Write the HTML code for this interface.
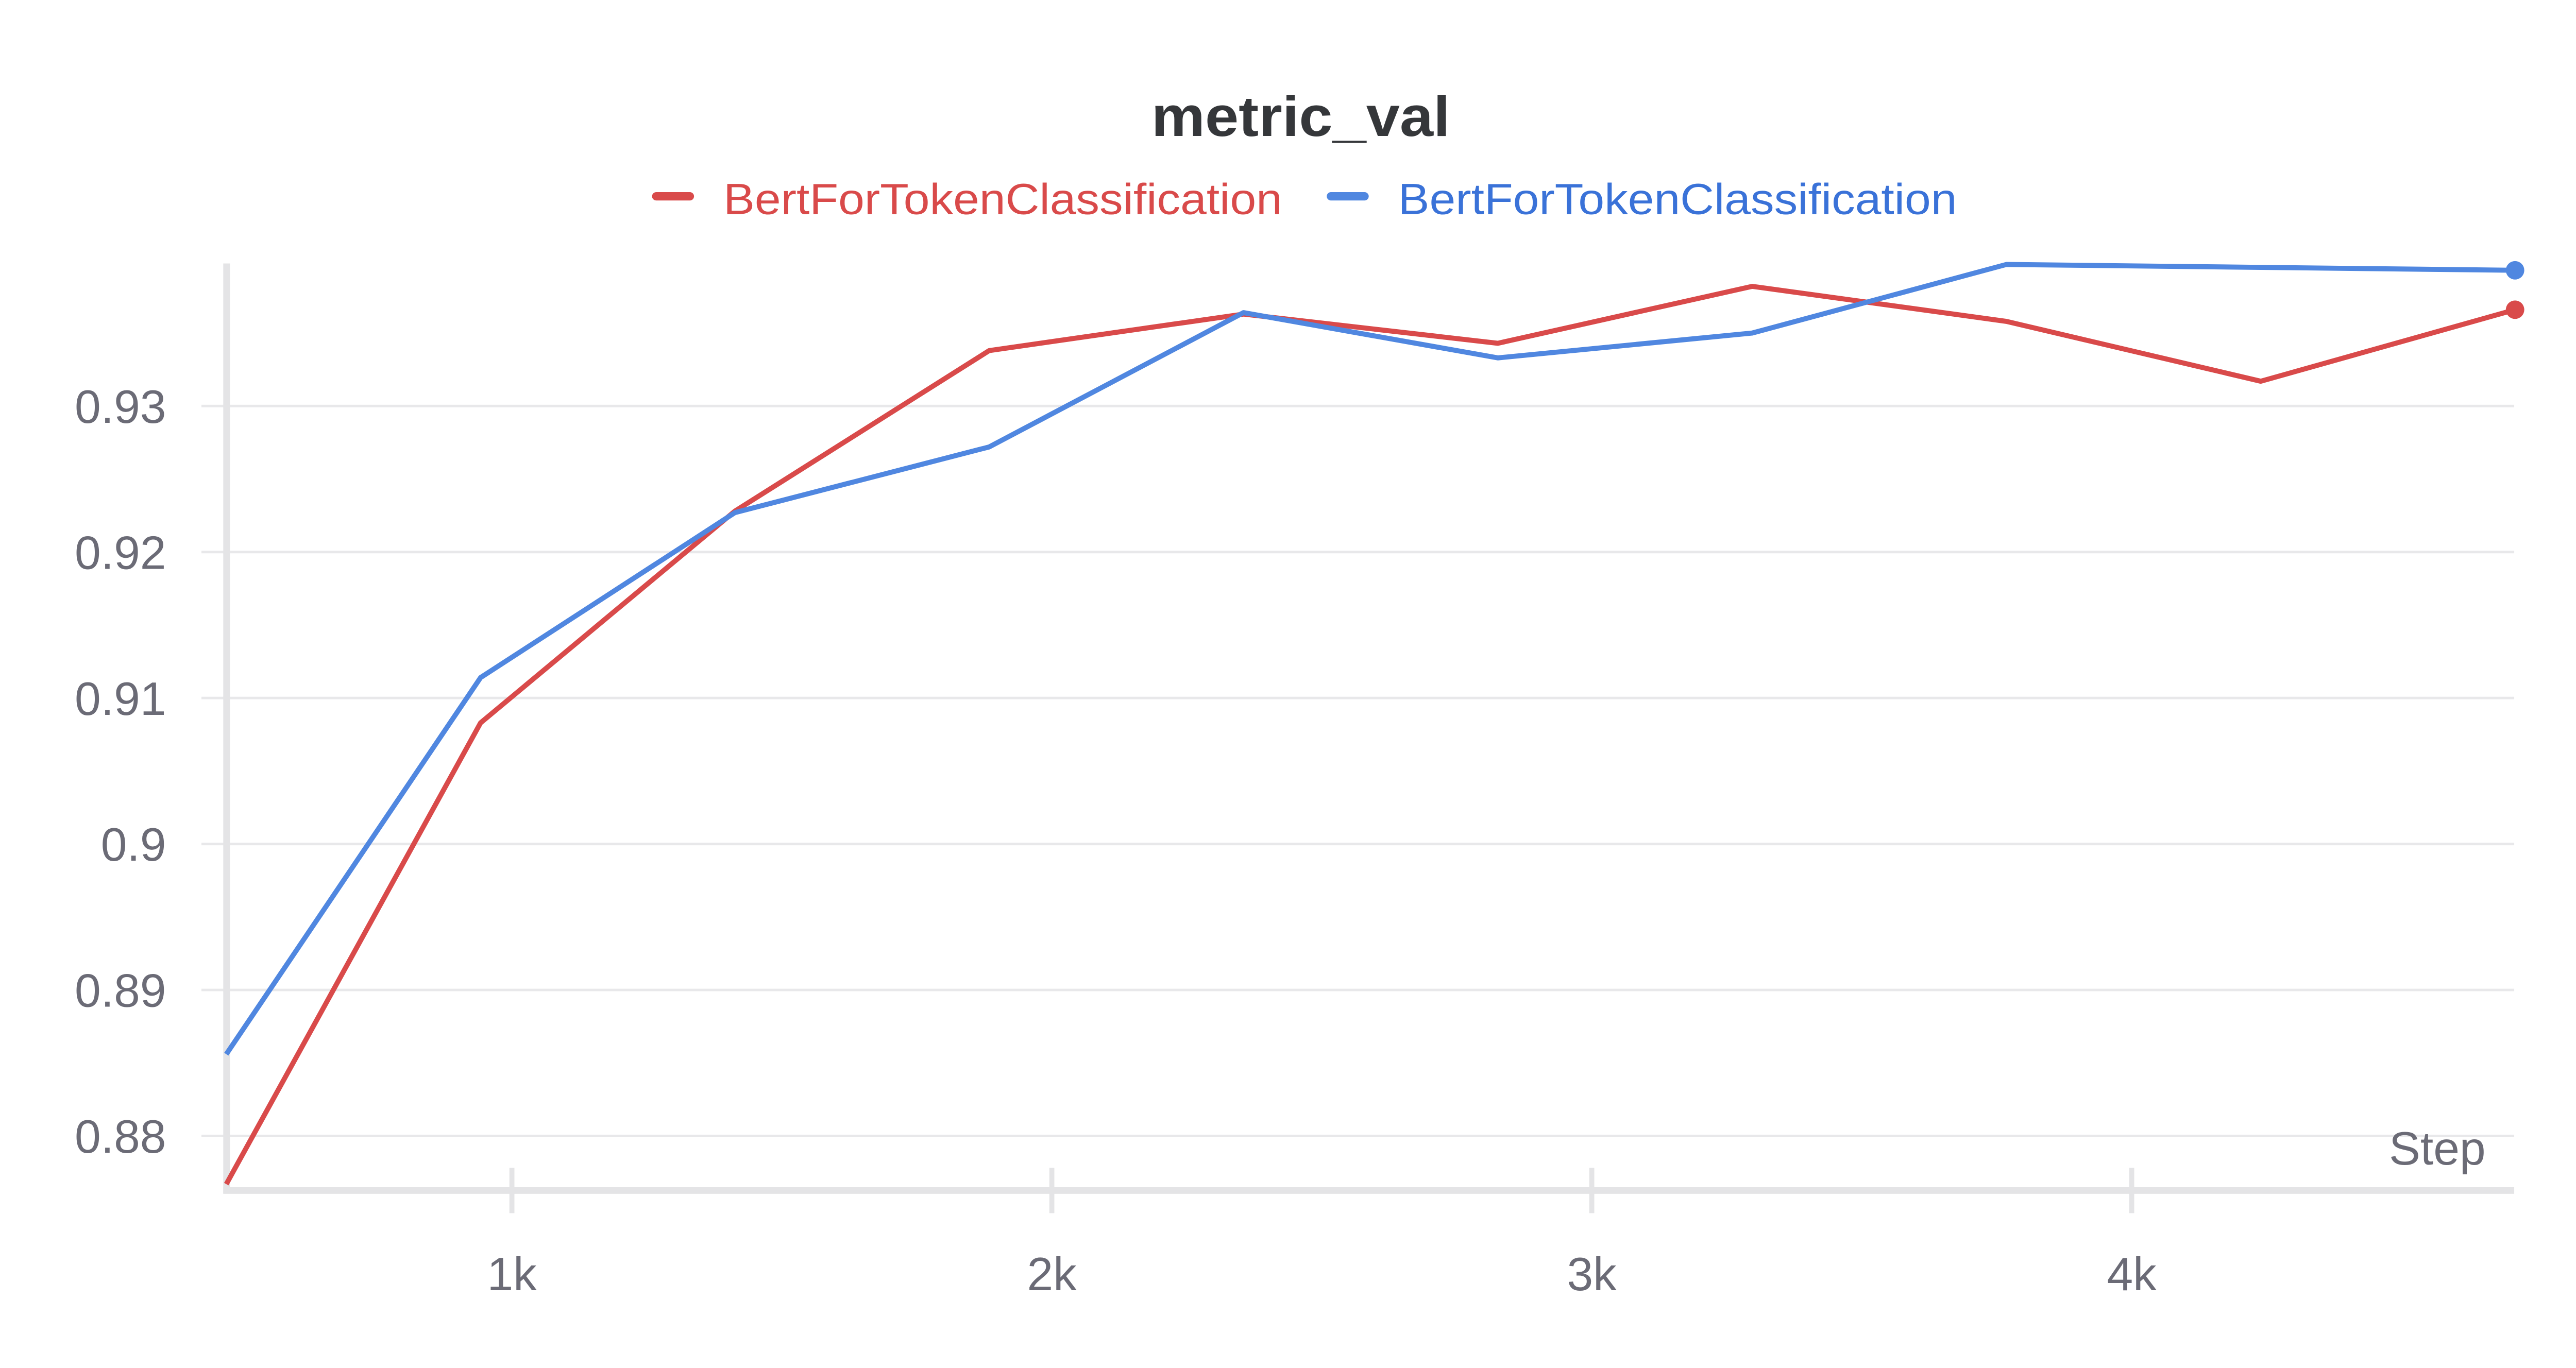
<!DOCTYPE html>
<html><head><meta charset="utf-8"><style>
html,body{margin:0;padding:0;background:#fff;}
svg{display:block;font-family:"Liberation Sans",sans-serif;}
</style></head><body>
<svg id="chart" width="5056" height="2656" viewBox="0 0 1552 815.3" xmlns="http://www.w3.org/2000/svg">
<rect width="1552" height="815.3" fill="#fff"/>
<text x="775" y="81" text-anchor="middle" font-size="34" font-weight="bold" fill="#35373a" textLength="178" lengthAdjust="spacingAndGlyphs">metric_val</text>
<g>
<g>
<line x1="391" y1="117" x2="411" y2="117" stroke="#d94a4a" stroke-width="5" stroke-linecap="round"/>
<text x="431" y="127.5" font-size="26" fill="#d94a4a" textLength="333" lengthAdjust="spacingAndGlyphs">BertForTokenClassification</text></g>
<g>
<line x1="793" y1="117" x2="813" y2="117" stroke="#5087e0" stroke-width="5" stroke-linecap="round"/>
<text x="833" y="127.5" font-size="26" fill="#3a72d8" textLength="333" lengthAdjust="spacingAndGlyphs">BertForTokenClassification</text></g>
</g>
<g id="grid"></g>
<g id="yticks"></g>
<g id="xticks"></g>
<line x1="135" y1="157" x2="135" y2="711" stroke="#e4e4e6" stroke-width="4"/>
<line x1="133" y1="709.5" x2="1498" y2="709.5" stroke="#e4e4e6" stroke-width="4"/>
<text x="1481" y="694" text-anchor="end" font-size="28" fill="#6b6b76">Step</text>
<g id="series"></g>
</svg>
<script>
const steps = [471, 942, 1413, 1884, 2355, 2826, 3297, 3768, 4239, 4710];
const redValues = [0.8767, 0.9083, 0.9228, 0.9338, 0.9363, 0.9343, 0.9382, 0.9358, 0.9317, 0.9366];
const blueValues = [0.8856, 0.9114, 0.9227, 0.9272, 0.9364, 0.9333, 0.9350, 0.9397, 0.9395, 0.9393];
const yTicks = [0.88, 0.89, 0.90, 0.91, 0.92, 0.93];
const yTickLabels = ["0.88", "0.89", "0.9", "0.91", "0.92", "0.93"];
const xTicks = [1000, 2000, 3000, 4000];
const xTickLabels = ["1k", "2k", "3k", "4k"];

const NS = "http://www.w3.org/2000/svg";
function xs(v){ return 305 + (v - 1000) * 0.3217; }
function ys(v){ return 242 - (v - 0.93) * 8700; }
function mk(tag, attrs, parent){ const e = document.createElementNS(NS, tag); for (const k in attrs) e.setAttribute(k, attrs[k]); parent.appendChild(e); return e; }

const grid = document.getElementById('grid');
const yt = document.getElementById('yticks');
yTicks.forEach((v, i) => {
  const g = mk('line', {x1:120, x2:1498, y1:ys(v), y2:ys(v), stroke:'#e8e8ea', 'stroke-width':1.5}, grid);
  
  
  const t = mk('text', {x:99, y:ys(v)+10, 'text-anchor':'end', 'font-size':28, fill:'#6b6b76'}, yt);
  t.textContent = yTickLabels[i];
  
  
});
const xt = document.getElementById('xticks');
xTicks.forEach((v, i) => {
  const l = mk('line', {x1:xs(v), x2:xs(v), y1:696, y2:723, stroke:'#e4e4e6', 'stroke-width':3}, xt);
  
  
  const t = mk('text', {x:xs(v), y:769, 'text-anchor':'middle', 'font-size':28, fill:'#6b6b76'}, xt);
  t.textContent = xTickLabels[i];
  
  
});
const sg = document.getElementById('series');
function drawSeries(vals, color, name){
  const pts = steps.map((s, i) => xs(s) + ',' + ys(vals[i])).join(' ');
  const p = mk('polyline', {points:pts, fill:'none', stroke:color, 'stroke-width':3, 'stroke-linejoin':'round'}, sg);
  
  
  const n = steps.length - 1;
  const c = mk('circle', {cx:xs(steps[n]), cy:ys(vals[n]), r:5.5, fill:color}, sg);
  
  
}
drawSeries(redValues, '#d94a4a', 'red-series');
drawSeries(blueValues, '#5087e0', 'blue-series');
</script>
</body></html>
